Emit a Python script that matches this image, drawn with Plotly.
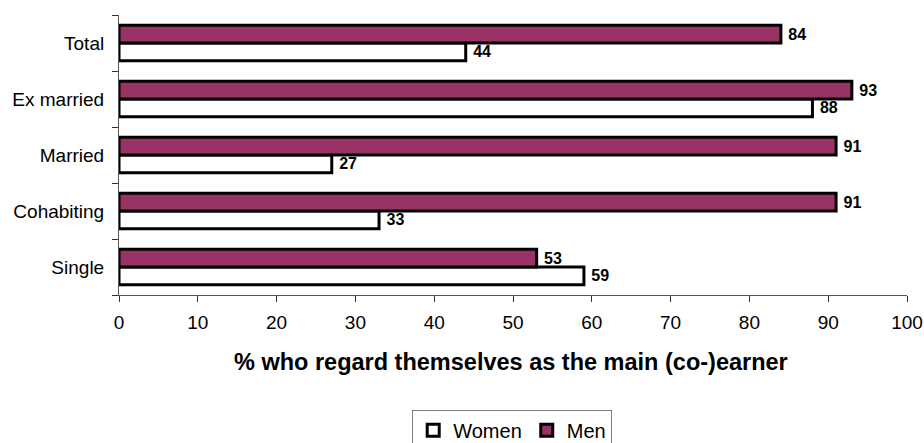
import plotly.graph_objects as go

categories = ["Single", "Cohabiting", "Married", "Ex married", "Total"]
women = [59, 33, 27, 88, 44]
men = [53, 91, 91, 93, 84]
x_ticks = [0, 10, 20, 30, 40, 50, 60, 70, 80, 90, 100]
x_title = "% who regard themselves as the main (co-)earner"

FONT = "Liberation Sans, Arial, sans-serif"
LABEL_FONT = dict(family=FONT, size=16, color="black", weight="bold")

fig = go.Figure()
fig.add_trace(go.Bar(
    y=categories, x=women, name="Women", orientation="h",
    marker=dict(color="white", line=dict(color="black", width=3)),
    text=["\u00a0" + str(v) for v in women], textposition="outside",
    textfont=LABEL_FONT, cliponaxis=False,
))
fig.add_trace(go.Bar(
    y=categories, x=men, name="Men", orientation="h",
    marker=dict(color="#993366", line=dict(color="black", width=3)),
    text=["\u00a0" + str(v) for v in men], textposition="outside",
    textfont=LABEL_FONT, cliponaxis=False,
))

fig.update_layout(
    width=924, height=443,
    margin=dict(l=119, r=17, t=15, b=148, autoexpand=False),
    barmode="group", bargap=0.37, bargroupgap=0,
    plot_bgcolor="white", paper_bgcolor="white",
    font=dict(family=FONT, size=19, color="black"),
    showlegend=True,
    legend=dict(
        orientation="h", x=0.499, xanchor="center", y=-0.41, yanchor="top",
        bordercolor="#808080", borderwidth=1,
        font=dict(family=FONT, size=20, color="black"),
        traceorder="normal", itemwidth=30,
    ),
    uniformtext=dict(minsize=8, mode="show"),
    annotations=[dict(
        text=x_title, xref="paper", yref="paper", x=0.498, y=-0.239,
        xanchor="center", yanchor="middle", showarrow=False,
        font=dict(family=FONT, size=23.5, color="black", weight="bold"),
    )],
)

fig.update_xaxes(
    range=[0, 100], tickvals=x_ticks, ticks="outside", ticklen=6,
    tickcolor="#333", showline=True, linecolor="#555", linewidth=1,
    showgrid=False, zeroline=False, automargin=False,
    tickfont=dict(family=FONT, size=19, color="black"),
    ticklabelstandoff=4,
)
fig.update_yaxes(
    categoryorder="array", categoryarray=categories,
    ticks="outside", tickson="boundaries", ticklen=6, tickcolor="#333",
    showline=True, linecolor="#555", linewidth=1, showgrid=False,
    automargin=False,
    tickfont=dict(family=FONT, size=19, color="black"),
    ticklabelstandoff=10,
)

fig.write_html("out.html")
